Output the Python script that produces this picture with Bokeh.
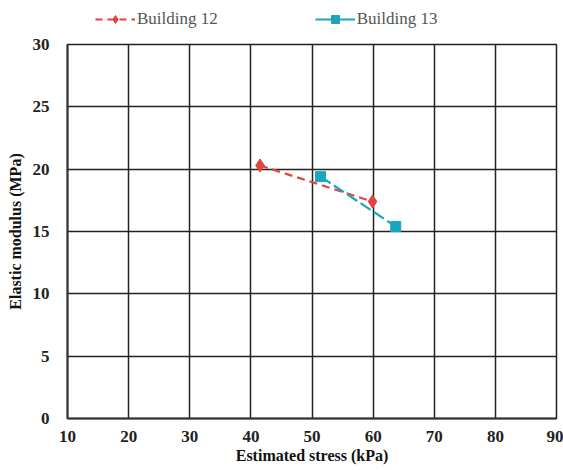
from bokeh.plotting import figure
from bokeh.layouts import column
from bokeh.models import Legend, LegendItem, FixedTicker, Range1d
from bokeh.embed import file_html
from bokeh.resources import INLINE

b12_stress = [41.5, 59.9]
b12_modulus = [20.3, 17.4]
b13_stress = [51.4, 63.7]
b13_modulus = [19.4, 15.4]
x_ticks = [10, 20, 30, 40, 50, 60, 70, 80, 90]
y_ticks = [0, 5, 10, 15, 20, 25, 30]
series_names = ["Building 12", "Building 13"]

RED = "#e0443c"
TEAL = "#1aa7be"
FONT = "Liberation Serif"

p = figure(width=563, height=438, output_backend="svg", toolbar_location=None,
           x_range=Range1d(10, 90), y_range=Range1d(0, 30),
           min_border_left=67, min_border_right=7, min_border_top=12, min_border_bottom=52)

p.line(b12_stress, b12_modulus, line_color=RED, line_width=2.2, line_dash="8 5")
p.scatter(b12_stress, b12_modulus, marker="diamond", size=13, fill_color=RED, line_color=RED)
p.line(b13_stress, b13_modulus, line_color=TEAL, line_width=2.2, line_dash="12 4")
p.scatter(b13_stress, b13_modulus, marker="square", size=10, fill_color=TEAL, line_color=TEAL)

p.xaxis.ticker = FixedTicker(ticks=x_ticks)
p.yaxis.ticker = FixedTicker(ticks=y_ticks)
p.xaxis.axis_label = "Estimated stress (kPa)"
p.yaxis.axis_label = "Elastic modulus (MPa)"
for ax in (p.xaxis[0], p.yaxis[0]):
    ax.major_label_text_font = FONT
    ax.major_label_text_font_style = "bold"
    ax.major_label_text_font_size = "17px"
    ax.major_label_text_color = "#222222"
    ax.axis_label_text_font = FONT
    ax.axis_label_text_font_style = "bold"
    ax.axis_label_text_font_size = "16px"
    ax.axis_label_text_color = "#111111"
    ax.major_tick_line_color = None
    ax.minor_tick_line_color = None
    ax.axis_line_color = "#333333"
    ax.axis_line_width = 2
p.xaxis[0].major_label_standoff = 6
p.xaxis[0].axis_label_standoff = 2
p.yaxis[0].major_label_standoff = 12
p.yaxis[0].axis_label_standoff = 6

p.xgrid.grid_line_color = "#222222"
p.ygrid.grid_line_color = "#222222"
p.xgrid.grid_line_width = 1.5
p.ygrid.grid_line_width = 1.5
p.outline_line_color = "#222222"
p.outline_line_width = 1.5

# legend strip above the chart (its renderers lie outside its own view)
lg = figure(width=563, height=32, output_backend="svg", toolbar_location=None,
            x_range=Range1d(0, 1), y_range=Range1d(0, 1),
            min_border_left=0, min_border_right=0, min_border_top=0, min_border_bottom=0)
lg.axis.visible = False
lg.grid.visible = False
lg.outline_line_color = None
l12l = lg.line(b12_stress, b12_modulus, line_color=RED, line_width=2, line_dash="7 5")
l12m = lg.scatter(b12_stress, b12_modulus, marker="diamond", size=12, fill_color=RED, line_color=RED)
l13l = lg.line(b13_stress, b13_modulus, line_color=TEAL, line_width=2)
l13m = lg.scatter(b13_stress, b13_modulus, marker="square", size=10, fill_color=TEAL, line_color=TEAL)
legend = Legend(items=[LegendItem(label=series_names[0], renderers=[l12l, l12m]),
                       LegendItem(label=series_names[1], renderers=[l13l, l13m])],
                orientation="horizontal", location=(28, 3),
                label_text_font=FONT, label_text_font_size="17px", label_text_color="#555555",
                border_line_color=None, background_fill_alpha=0,
                spacing=97, glyph_width=40, label_standoff=2, padding=2, margin=0)
lg.add_layout(legend, "center")

open("out.html", "w").write(file_html(column(lg, p, spacing=0), INLINE))
